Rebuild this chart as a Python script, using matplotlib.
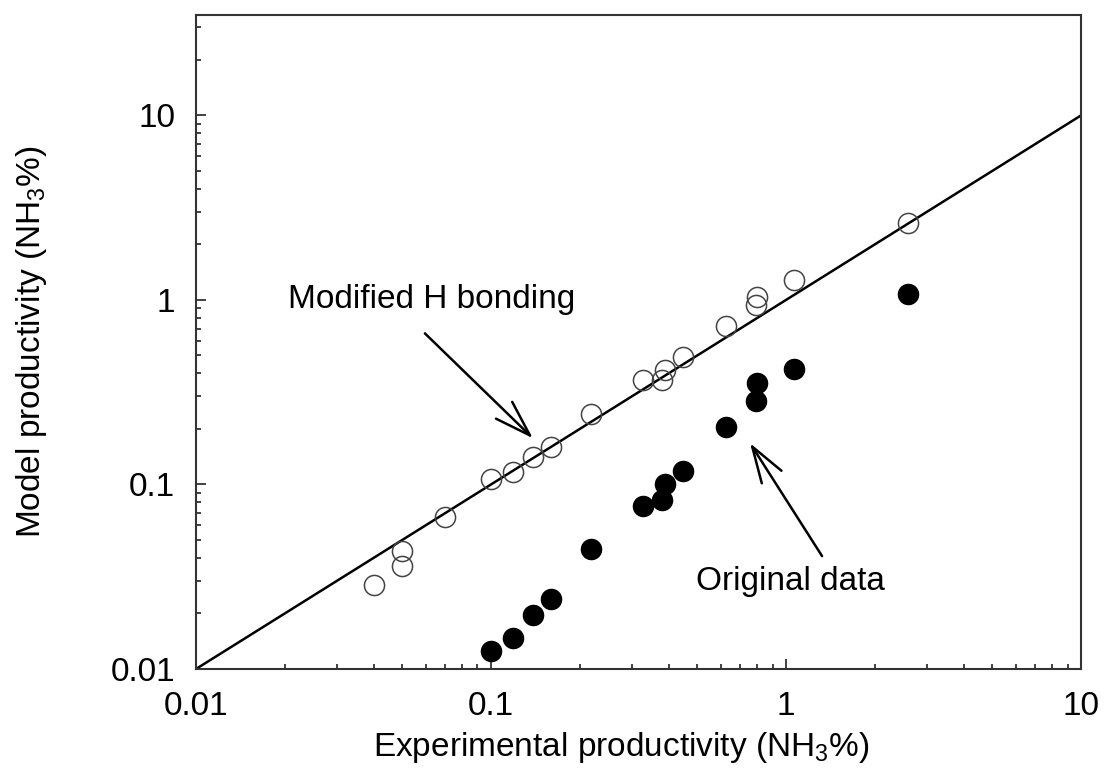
import matplotlib
matplotlib.use("Agg")
import matplotlib.pyplot as plt
from matplotlib.ticker import FixedLocator, LogLocator, NullFormatter

plt.rcParams['font.family'] = ['Liberation Sans', 'DejaVu Sans']
plt.rcParams['mathtext.fontset'] = 'custom'
plt.rcParams['mathtext.rm'] = 'Liberation Sans'
plt.rcParams['mathtext.it'] = 'Liberation Sans:italic'

# experimental productivity (shared by both series)
exp_x = [0.04, 0.05, 0.05, 0.07, 0.1, 0.119, 0.139, 0.16, 0.218, 0.328,
         0.379, 0.389, 0.449, 0.625, 0.789, 0.799, 1.065, 2.59]
# model with modified H bonding (open circles)
modified_y = [0.0285, 0.0435, 0.0361, 0.0665, 0.107, 0.117, 0.141, 0.159, 0.240, 0.367,
              0.367, 0.416, 0.491, 0.719, 0.936, 1.037, 1.276, 2.60]
# original model (filled circles)
orig_x = [0.1, 0.119, 0.139, 0.16, 0.218, 0.328, 0.379, 0.389, 0.449, 0.625,
          0.789, 0.799, 1.065, 2.59]
orig_y = [0.0125, 0.0147, 0.0196, 0.0239, 0.0447, 0.0763, 0.0822, 0.100, 0.118, 0.204,
          0.283, 0.353, 0.421, 1.072]

parity = [0.01, 10]
tick_vals = [0.01, 0.1, 1, 10]
tick_labels = ['0.01', '0.1', '1', '10']

fs = 24

fig = plt.figure(figsize=(11.09, 7.78), dpi=100)
ax = fig.add_axes([0.1767, 0.1401, 0.7981, 0.8406])

ax.plot(parity, parity, color='black', lw=1.8, zorder=2)
ax.plot(exp_x, modified_y, 'o', ms=14.5, mfc='none', mec='#444444', mew=1.1, zorder=3)
ax.plot(orig_x, orig_y, 'o', ms=14.5, mfc='black', mec='black', zorder=3)

ax.set_xscale('log')
ax.set_yscale('log')
ax.set_xlim(0.01, 10)
ax.set_ylim(0.01, 35)

ax.xaxis.set_major_locator(FixedLocator(tick_vals))
ax.yaxis.set_major_locator(FixedLocator(tick_vals))
ax.set_xticklabels(tick_labels)
ax.set_yticklabels(tick_labels)
ax.xaxis.set_minor_locator(LogLocator(base=10, subs=range(2, 10)))
ax.yaxis.set_minor_locator(LogLocator(base=10, subs=range(2, 10)))
ax.xaxis.set_minor_formatter(NullFormatter())
ax.yaxis.set_minor_formatter(NullFormatter())

ax.tick_params(which='both', direction='in', top=False, right=False,
               width=1.3, color='#333333', labelsize=fs)
ax.tick_params(axis='x', which='major', length=7, pad=16)
ax.tick_params(axis='y', which='major', length=7, pad=15)
ax.tick_params(which='minor', length=3.5)

for s in ax.spines.values():
    s.set_linewidth(1.5)
    s.set_color('#333333')

ax.set_xlabel('Experimental productivity (NH$_3$%)', fontsize=fs)
ax.set_ylabel('Model productivity (NH$_3$%)', fontsize=fs)
ax.xaxis.set_label_coords(0.48, -0.093)
ax.yaxis.set_label_coords(-0.166, 0.5)

arrow = dict(arrowstyle='->,head_length=1.3,head_width=0.42', color='black',
             lw=1.8, mutation_scale=20, shrinkA=0, shrinkB=0)

ax.text(0.0628, 0.9, 'Modified H bonding', fontsize=fs, ha='center', va='baseline')
ax.annotate('', xy=(0.1387, 0.178), xytext=(0.0597, 0.659), arrowprops=arrow)

ax.text(1.036, 0.0268, 'Original data', fontsize=fs, ha='center', va='baseline')
ax.annotate('', xy=(0.755, 0.1675), xytext=(1.325, 0.0409), arrowprops=arrow)

fig.savefig('out.png', dpi=100)
